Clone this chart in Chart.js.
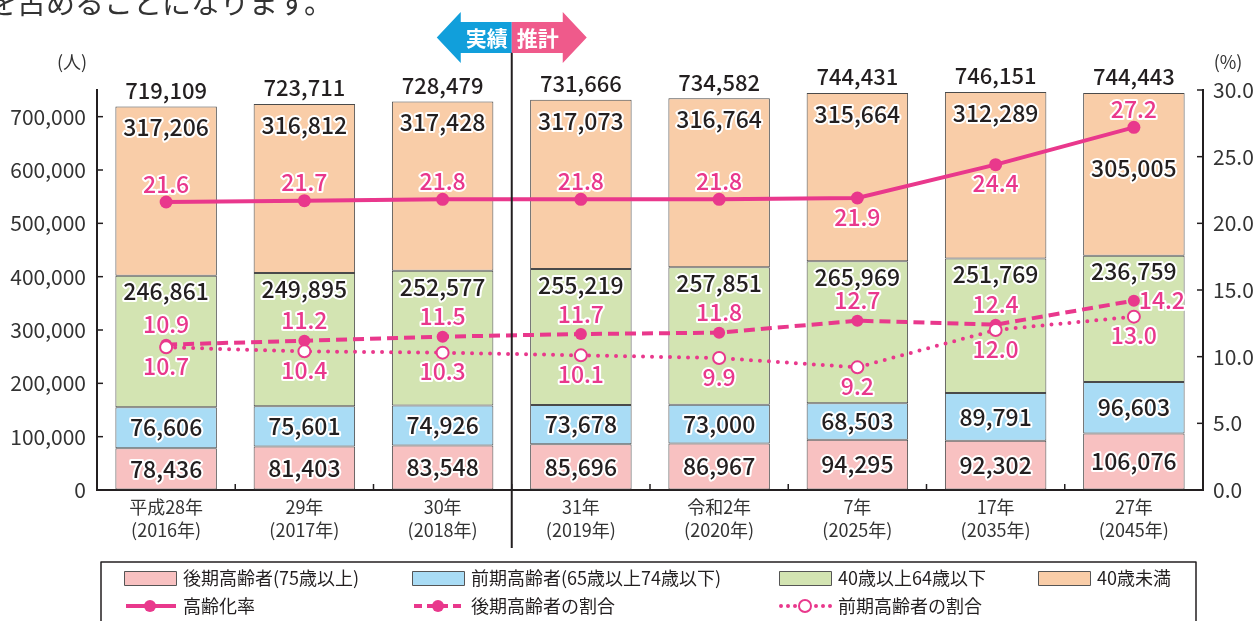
<!DOCTYPE html>
<html>
<head>
<meta charset="utf-8">
<script src="https://cdn.jsdelivr.net/npm/chart.js@4"></script>
<style>
  html, body { margin: 0; padding: 0; background: #fff; }
  #wrap { position: relative; width: 1256px; height: 621px; }
</style>
</head>
<body>
<div id="wrap"><canvas id="chart" width="1256" height="621"></canvas></div>
<script>
// ---- data ----
const yearLabels = [
    ['平成28年', '(2016年)'], ['29年', '(2017年)'], ['30年', '(2018年)'], ['31年', '(2019年)'],
    ['令和2年', '(2020年)'], ['7年', '(2025年)'], ['17年', '(2035年)'], ['27年', '(2045年)']
];
const lateElderly = [78436, 81403, 83548, 85696, 86967, 94295, 92302, 106076];
const earlyElderly = [76606, 75601, 74926, 73678, 73000, 68503, 89791, 96603];
const age40to64 = [246861, 249895, 252577, 255219, 257851, 265969, 251769, 236759];
const under40 = [317206, 316812, 317428, 317073, 316764, 315664, 312289, 305005];
const totals = [719109, 723711, 728479, 731666, 734582, 744431, 746151, 744443];
const agingRate = [21.6, 21.7, 21.8, 21.8, 21.8, 21.9, 24.4, 27.2];
const lateRate = [10.9, 11.2, 11.5, 11.7, 11.8, 12.7, 12.4, 14.2];
const earlyRate = [10.7, 10.4, 10.3, 10.1, 9.9, 9.2, 12.0, 13.0];
const barNames = ['後期高齢者(75歳以上)', '前期高齢者(65歳以上74歳以下)', '40歳以上64歳以下', '40歳未満'];
const lineNames = ['高齢化率', '後期高齢者の割合', '前期高齢者の割合'];
const leftTicks = [0, 100000, 200000, 300000, 400000, 500000, 600000, 700000];

const FONT = "'Noto Sans CJK JP', 'Noto Sans', sans-serif";
const PINK = '#e9388c';
const INK = '#231f20';
const barColors = ['#f8c1c1', '#a9dcf5', '#d3e4b2', '#f9cda8'];

function outlinedText(ctx, text, x, y, color, size) {
    ctx.font = '500 ' + size + 'px ' + FONT;
    ctx.textAlign = 'center';
    ctx.textBaseline = 'middle';
    ctx.lineJoin = 'round';
    ctx.lineWidth = 4;
    ctx.strokeStyle = '#fff';
    ctx.strokeText(text, x, y);
    ctx.fillStyle = color;
    ctx.fillText(text, x, y);
}

const overlay = {
    id: 'overlay',
    afterDraw(chart) {
        const ctx = chart.ctx;
        const area = chart.chartArea;
        const xs = chart.scales.x, ys = chart.scales.y, ys1 = chart.scales.y1;
        ctx.save();

        // cut-off sentence at the very top
        ctx.font = '29px ' + FONT;
        ctx.fillStyle = '#333';
        ctx.textAlign = 'left';
        ctx.textBaseline = 'alphabetic';
        ctx.fillText('を占めることになります。', -12, 14);

        // inward tick marks
        ctx.strokeStyle = INK;
        ctx.lineWidth = 1.5;
        leftTicks.forEach(v => {
            const py = ys.getPixelForValue(v);
            ctx.beginPath(); ctx.moveTo(area.left, py); ctx.lineTo(area.left + 6, py); ctx.stroke();
        });
        for (let v = 0; v <= 30; v += 5) {
            const py = ys1.getPixelForValue(v);
            ctx.beginPath(); ctx.moveTo(area.right - 6, py); ctx.lineTo(area.right, py); ctx.stroke();
        }
        const step = (area.right - area.left) / yearLabels.length;
        for (let i = 1; i < yearLabels.length; i++) {
            const px = area.left + i * step;
            ctx.beginPath(); ctx.moveTo(px, area.bottom); ctx.lineTo(px, area.bottom - 6); ctx.stroke();
        }

        // divider between actual and projection
        const divX = (xs.getPixelForValue(2) + xs.getPixelForValue(3)) / 2;
        ctx.lineWidth = 2;
        ctx.beginPath(); ctx.moveTo(divX, 52); ctx.lineTo(divX, 548); ctx.stroke();

        // 実績 / 推計 arrow badge
        ctx.fillStyle = '#119fdb';
        ctx.beginPath();
        ctx.moveTo(divX, 22); ctx.lineTo(divX - 51, 22); ctx.lineTo(divX - 51, 12);
        ctx.lineTo(divX - 75, 37.5); ctx.lineTo(divX - 51, 63); ctx.lineTo(divX - 51, 53);
        ctx.lineTo(divX, 53); ctx.closePath(); ctx.fill();
        ctx.fillStyle = '#ef5a8b';
        ctx.beginPath();
        ctx.moveTo(divX, 22); ctx.lineTo(divX + 51, 22); ctx.lineTo(divX + 51, 12);
        ctx.lineTo(divX + 75, 37.5); ctx.lineTo(divX + 51, 63); ctx.lineTo(divX + 51, 53);
        ctx.lineTo(divX, 53); ctx.closePath(); ctx.fill();
        ctx.font = 'bold 21px ' + FONT;
        ctx.fillStyle = '#fff';
        ctx.textAlign = 'center';
        ctx.textBaseline = 'middle';
        ctx.fillText('実績', divX - 25, 38);
        ctx.fillText('推計', divX + 26, 38);

        // unit labels
        ctx.font = '18px ' + FONT;
        ctx.fillStyle = '#333';
        ctx.fillText('(人)', 72, 62);
        ctx.fillText('(%)', 1228, 62);

        // bar segment labels
        const metas = [0, 1, 2, 3].map(i => chart.getDatasetMeta(i));
        const barData = [lateElderly, earlyElderly, age40to64, under40];
        for (let j = 0; j < yearLabels.length; j++) {
            metas.forEach((m, i) => {
                const el = m.data[j];
                let py;
                if (i < 2) py = (el.y + el.base) / 2;
                else if (i === 2) py = el.y + 16;
                else py = (j === yearLabels.length - 1) ? el.y + 75 : el.y + 21;
                outlinedText(ctx, barData[i][j].toLocaleString('en-US'), el.x, py, INK, 23);
            });
            const top = metas[3].data[j];
            outlinedText(ctx, totals[j].toLocaleString('en-US'), top.x, top.y - 16, INK, 22);
        }

        // line labels
        const agingMeta = chart.getDatasetMeta(4);
        const lateMeta = chart.getDatasetMeta(5);
        const earlyMeta = chart.getDatasetMeta(6);
        agingRate.forEach((v, j) => {
            const p = agingMeta.data[j];
            const below = (j === 5 || j === 6);
            outlinedText(ctx, v.toFixed(1), p.x, below ? p.y + 19 : p.y - 18, PINK, 23);
        });
        lateRate.forEach((v, j) => {
            const p = lateMeta.data[j];
            if (j === lateRate.length - 1) outlinedText(ctx, v.toFixed(1), p.x + 28, p.y, PINK, 23);
            else outlinedText(ctx, v.toFixed(1), p.x, p.y - 20, PINK, 23);
        });
        earlyRate.forEach((v, j) => {
            const p = earlyMeta.data[j];
            outlinedText(ctx, v.toFixed(1), p.x, p.y + 19, PINK, 23);
        });

        // legend box
        ctx.strokeStyle = INK;
        ctx.lineWidth = 1.5;
        ctx.strokeRect(101, 562, 1095, 70);
        ctx.font = '18px ' + FONT;
        ctx.textAlign = 'left';
        ctx.textBaseline = 'middle';
        const row1 = [124, 412, 779, 1038];
        barNames.forEach((name, i) => {
            ctx.fillStyle = barColors[i];
            ctx.fillRect(row1[i], 571, 52, 14);
            ctx.strokeStyle = '#555';
            ctx.lineWidth = 1;
            ctx.strokeRect(row1[i] + 0.5, 571.5, 52, 14);
            ctx.fillStyle = INK;
            ctx.fillText(name, row1[i] + 59, 578);
        });
        const row2 = [124, 412, 779];
        lineNames.forEach((name, i) => {
            const lx = row2[i], ly = 606;
            ctx.strokeStyle = PINK;
            ctx.lineWidth = 4;
            if (i === 0) { ctx.setLineDash([]); ctx.lineCap = 'butt'; }
            else if (i === 1) { ctx.setLineDash([8, 5]); ctx.lineCap = 'butt'; }
            else { ctx.setLineDash([0, 7]); ctx.lineCap = 'round'; }
            ctx.beginPath(); ctx.moveTo(lx + 2, ly); ctx.lineTo(lx + 52, ly); ctx.stroke();
            ctx.setLineDash([]);
            ctx.beginPath();
            ctx.arc(lx + 26, ly, 6, 0, Math.PI * 2);
            if (i === 2) {
                ctx.fillStyle = '#fff'; ctx.fill();
                ctx.lineWidth = 2; ctx.stroke();
            } else {
                ctx.fillStyle = PINK; ctx.fill();
            }
            ctx.fillStyle = INK;
            ctx.fillText(name, lx + 59, ly);
        });

        ctx.restore();
    }
};

const barDefaults = {
    type: 'bar',
    yAxisID: 'y',
    borderColor: '#4a4a4a',
    borderWidth: 1,
    borderSkipped: false,
    categoryPercentage: 1,
    barPercentage: 0.734,
    order: 2
};

new Chart(document.getElementById('chart'), {
    data: {
        labels: yearLabels,
        datasets: [
            Object.assign({}, barDefaults, { label: barNames[0], data: lateElderly, backgroundColor: barColors[0] }),
            Object.assign({}, barDefaults, { label: barNames[1], data: earlyElderly, backgroundColor: barColors[1] }),
            Object.assign({}, barDefaults, { label: barNames[2], data: age40to64, backgroundColor: barColors[2] }),
            Object.assign({}, barDefaults, { label: barNames[3], data: under40, backgroundColor: barColors[3] }),
            {
                type: 'line', label: lineNames[0], data: agingRate, yAxisID: 'y1', order: 1,
                borderColor: PINK, borderWidth: 4, pointRadius: 6.5,
                pointBackgroundColor: PINK, pointBorderWidth: 0
            },
            {
                type: 'line', label: lineNames[1], data: lateRate, yAxisID: 'y1', order: 1,
                borderColor: PINK, borderWidth: 4, borderDash: [11, 6], pointRadius: 6,
                pointBackgroundColor: PINK, pointBorderWidth: 0
            },
            {
                type: 'line', label: lineNames[2], data: earlyRate, yAxisID: 'y1', order: 0,
                borderColor: PINK, borderWidth: 4, borderDash: [0, 9], borderCapStyle: 'round',
                pointRadius: 6, pointBackgroundColor: '#fff', pointBorderColor: PINK, pointBorderWidth: 2
            }
        ]
    },
    options: {
        responsive: false,
        animation: false,
        layout: { padding: { top: 90, left: 0, right: 0, bottom: 0 } },
        plugins: { legend: { display: false }, tooltip: { enabled: false } },
        scales: {
            x: {
                stacked: true,
                afterFit: s => { s.height = 131; },
                grid: { display: true, drawOnChartArea: false, drawTicks: false },
                border: { display: true, color: INK, width: 2 },
                ticks: { color: '#333', padding: 6, font: { family: FONT, size: 18, lineHeight: 1.28 } }
            },
            y: {
                stacked: true,
                min: 0, max: 750000,
                afterFit: s => { s.width = 97; },
                afterBuildTicks: s => { s.ticks = leftTicks.map(v => ({ value: v })); },
                grid: { display: true, drawOnChartArea: false, drawTicks: false },
                border: { display: true, color: INK, width: 2 },
                ticks: {
                    color: '#333', padding: 11, font: { family: FONT, size: 21 },
                    callback: v => v.toLocaleString('en-US')
                }
            },
            y1: {
                position: 'right',
                min: 0, max: 30,
                afterFit: s => { s.width = 53; },
                grid: { display: true, drawOnChartArea: false, drawTicks: false },
                border: { display: true, color: INK, width: 2 },
                ticks: {
                    stepSize: 5, color: '#333', padding: 10, font: { family: FONT, size: 21 },
                    callback: v => v.toFixed(1)
                }
            }
        }
    },
    plugins: [overlay]
});
</script>
</body>
</html>
